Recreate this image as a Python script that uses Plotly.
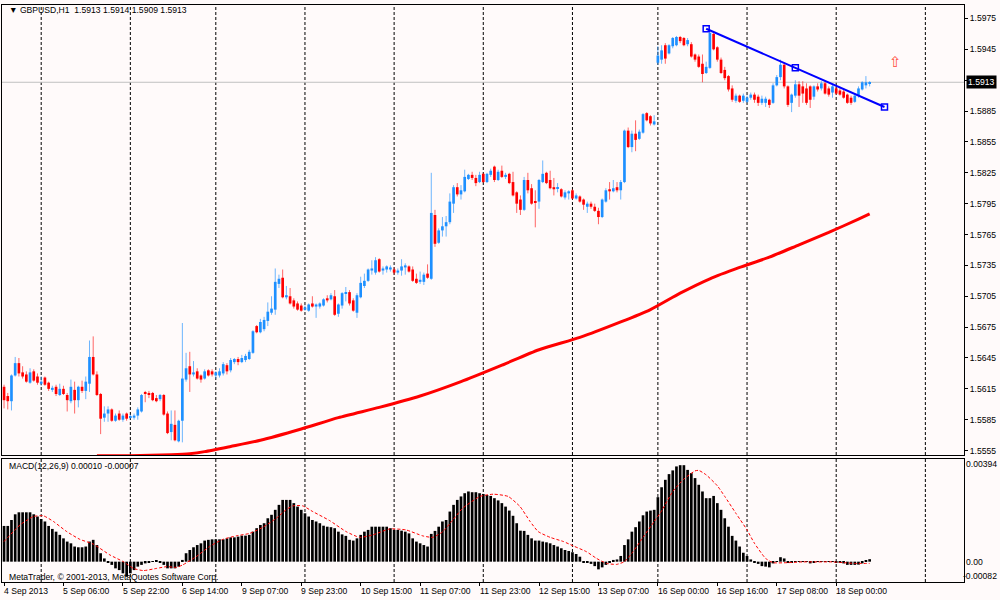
"""GBPUSD H1 chart with MACD(12,26,9) sub-window, MetaTrader style (Plotly, HTML)."""

import plotly.graph_objects as go

# --- data --------------------------------------------------------------------
# one entry per H1 bar, bar 0 = 4 Sep 2013 14:00, last bar = 18 Sep 09:00
OPEN = [
    1.5617, 1.5608, 1.5603, 1.5628, 1.5640, 1.5631, 1.5629, 1.5621, 1.5632, 1.5627,
    1.5620, 1.5626, 1.5621, 1.5614, 1.5617, 1.5609, 1.5615, 1.5609, 1.5603, 1.5614,
    1.5604, 1.5617, 1.5613, 1.5620, 1.5646, 1.5629, 1.5610, 1.5587, 1.5591, 1.5595,
    1.5584, 1.5591, 1.5585, 1.5591, 1.5587, 1.5587, 1.5589, 1.5593, 1.5611, 1.5611,
    1.5611, 1.5606, 1.5605, 1.5609, 1.5591, 1.5573, 1.5580, 1.5564, 1.5584, 1.5624,
    1.5637, 1.5629, 1.5632, 1.5628, 1.5625, 1.5633, 1.5632, 1.5628, 1.5628, 1.5630,
    1.5638, 1.5633, 1.5641, 1.5644, 1.5641, 1.5643, 1.5644, 1.5650, 1.5676, 1.5670,
    1.5673, 1.5681, 1.5689, 1.5692, 1.5717, 1.5723, 1.5704, 1.5705, 1.5701, 1.5698,
    1.5696, 1.5692, 1.5691, 1.5698, 1.5695, 1.5695, 1.5696, 1.5703, 1.5702, 1.5705,
    1.5688, 1.5696, 1.5708, 1.5709, 1.5701, 1.5689, 1.5704, 1.5715, 1.5720, 1.5730,
    1.5728, 1.5741, 1.5730, 1.5731, 1.5731, 1.5731, 1.5728, 1.5730, 1.5733, 1.5734,
    1.5731, 1.5722, 1.5719, 1.5719, 1.5727, 1.5722, 1.5784, 1.5757, 1.5769, 1.5773,
    1.5777, 1.5795, 1.5811, 1.5804, 1.5807, 1.5819, 1.5823, 1.5820, 1.5816, 1.5824,
    1.5816, 1.5823, 1.5831, 1.5818, 1.5827, 1.5821, 1.5824, 1.5816, 1.5806, 1.5799,
    1.5789, 1.5818, 1.5810, 1.5797, 1.5797, 1.5816, 1.5825, 1.5818, 1.5811, 1.5810,
    1.5809, 1.5801, 1.5805, 1.5808, 1.5800, 1.5802, 1.5799, 1.5792, 1.5795, 1.5792,
    1.5788, 1.5782, 1.5797, 1.5809, 1.5807, 1.5811, 1.5808, 1.5816, 1.5866, 1.5850,
    1.5863, 1.5858, 1.5864, 1.5883, 1.5880, 1.5872, 1.5932, 1.5935, 1.5949, 1.5941,
    1.5948, 1.5949, 1.5957, 1.5956, 1.5950, 1.5950, 1.5940, 1.5938, 1.5931, 1.5922,
    1.5927, 1.5960, 1.5947, 1.5935, 1.5925, 1.5919, 1.5907, 1.5895, 1.5900, 1.5895,
    1.5894, 1.5898, 1.5901, 1.5899, 1.5893, 1.5893, 1.5896, 1.5893, 1.5910, 1.5918,
    1.5930, 1.5909, 1.5893, 1.5900, 1.5911, 1.5909, 1.5907, 1.5909, 1.5899, 1.5909,
    1.5907, 1.5912, 1.5907, 1.5903, 1.5907, 1.5905, 1.5904, 1.5901, 1.5898, 1.5894,
    1.5900, 1.5906, 1.5910, 1.5912,
]
HIGH = [
    1.5619, 1.5611, 1.5629, 1.5646, 1.5645, 1.5637, 1.5632, 1.5635, 1.5634, 1.5630,
    1.5627, 1.5627, 1.5622, 1.5618, 1.5619, 1.5620, 1.5618, 1.5611, 1.5624, 1.5622,
    1.5618, 1.5623, 1.5627, 1.5662, 1.5666, 1.5632, 1.5611, 1.5598, 1.5598, 1.5596,
    1.5591, 1.5594, 1.5591, 1.5592, 1.5590, 1.5591, 1.5597, 1.5610, 1.5613, 1.5613,
    1.5612, 1.5609, 1.5610, 1.5610, 1.5593, 1.5594, 1.5594, 1.5585, 1.5679, 1.5650,
    1.5651, 1.5642, 1.5635, 1.5629, 1.5634, 1.5634, 1.5634, 1.5632, 1.5635, 1.5641,
    1.5640, 1.5645, 1.5645, 1.5646, 1.5648, 1.5649, 1.5653, 1.5672, 1.5677, 1.5683,
    1.5685, 1.5699, 1.5705, 1.5732, 1.5726, 1.5731, 1.5715, 1.5713, 1.5703, 1.5700,
    1.5698, 1.5696, 1.5698, 1.5705, 1.5698, 1.5699, 1.5703, 1.5706, 1.5708, 1.5711,
    1.5698, 1.5709, 1.5714, 1.5711, 1.5703, 1.5708, 1.5724, 1.5727, 1.5732, 1.5740,
    1.5743, 1.5742, 1.5734, 1.5735, 1.5735, 1.5733, 1.5732, 1.5741, 1.5737, 1.5735,
    1.5734, 1.5727, 1.5729, 1.5728, 1.5736, 1.5825, 1.5789, 1.5771, 1.5782, 1.5783,
    1.5805, 1.5813, 1.5815, 1.5813, 1.5828, 1.5824, 1.5826, 1.5823, 1.5826, 1.5825,
    1.5825, 1.5829, 1.5832, 1.5828, 1.5832, 1.5825, 1.5825, 1.5826, 1.5807, 1.5803,
    1.5821, 1.5825, 1.5814, 1.5808, 1.5819, 1.5837, 1.5826, 1.5827, 1.5820, 1.5815,
    1.5810, 1.5808, 1.5808, 1.5809, 1.5805, 1.5803, 1.5800, 1.5797, 1.5797, 1.5795,
    1.5791, 1.5800, 1.5810, 1.5816, 1.5818, 1.5816, 1.5818, 1.5867, 1.5869, 1.5866,
    1.5876, 1.5867, 1.5883, 1.5884, 1.5881, 1.5881, 1.5948, 1.5949, 1.5951, 1.5950,
    1.5957, 1.5958, 1.5958, 1.5957, 1.5956, 1.5952, 1.5941, 1.5940, 1.5940, 1.5933,
    1.5962, 1.5961, 1.5948, 1.5937, 1.5928, 1.5920, 1.5910, 1.5902, 1.5901, 1.5902,
    1.5900, 1.5903, 1.5903, 1.5901, 1.5900, 1.5899, 1.5897, 1.5912, 1.5920, 1.5935,
    1.5932, 1.5910, 1.5902, 1.5915, 1.5914, 1.5914, 1.5912, 1.5910, 1.5910, 1.5912,
    1.5914, 1.5914, 1.5909, 1.5911, 1.5909, 1.5907, 1.5906, 1.5902, 1.5900, 1.5901,
    1.5909, 1.5914, 1.5919, 1.5914,
]
LOW = [
    1.5596, 1.5595, 1.5594, 1.5627, 1.5627, 1.5625, 1.5621, 1.5620, 1.5622, 1.5619,
    1.5618, 1.5618, 1.5613, 1.5612, 1.5608, 1.5608, 1.5609, 1.5593, 1.5601, 1.5591,
    1.5597, 1.5611, 1.5605, 1.5612, 1.5628, 1.5608, 1.5571, 1.5583, 1.5583, 1.5583,
    1.5583, 1.5584, 1.5583, 1.5584, 1.5586, 1.5585, 1.5585, 1.5592, 1.5602, 1.5606,
    1.5603, 1.5602, 1.5603, 1.5589, 1.5571, 1.5565, 1.5564, 1.5563, 1.5563, 1.5622,
    1.5612, 1.5627, 1.5624, 1.5621, 1.5624, 1.5627, 1.5627, 1.5625, 1.5626, 1.5628,
    1.5629, 1.5631, 1.5639, 1.5638, 1.5640, 1.5641, 1.5643, 1.5649, 1.5669, 1.5669,
    1.5671, 1.5676, 1.5687, 1.5687, 1.5713, 1.5703, 1.5702, 1.5697, 1.5693, 1.5691,
    1.5690, 1.5691, 1.5690, 1.5694, 1.5684, 1.5693, 1.5695, 1.5699, 1.5701, 1.5686,
    1.5685, 1.5693, 1.5700, 1.5696, 1.5690, 1.5684, 1.5703, 1.5713, 1.5719, 1.5726,
    1.5726, 1.5728, 1.5726, 1.5728, 1.5729, 1.5726, 1.5726, 1.5725, 1.5726, 1.5728,
    1.5719, 1.5717, 1.5717, 1.5716, 1.5722, 1.5721, 1.5753, 1.5756, 1.5763, 1.5763,
    1.5775, 1.5786, 1.5802, 1.5799, 1.5806, 1.5818, 1.5818, 1.5812, 1.5815, 1.5815,
    1.5815, 1.5821, 1.5816, 1.5817, 1.5820, 1.5819, 1.5814, 1.5802, 1.5786, 1.5784,
    1.5788, 1.5805, 1.5794, 1.5772, 1.5790, 1.5815, 1.5814, 1.5809, 1.5803, 1.5806,
    1.5801, 1.5799, 1.5799, 1.5799, 1.5799, 1.5796, 1.5789, 1.5786, 1.5790, 1.5787,
    1.5775, 1.5781, 1.5796, 1.5799, 1.5806, 1.5806, 1.5799, 1.5815, 1.5849, 1.5845,
    1.5846, 1.5857, 1.5863, 1.5875, 1.5871, 1.5871, 1.5930, 1.5931, 1.5931, 1.5940,
    1.5946, 1.5948, 1.5951, 1.5948, 1.5948, 1.5937, 1.5933, 1.5927, 1.5913, 1.5921,
    1.5926, 1.5944, 1.5933, 1.5921, 1.5915, 1.5904, 1.5894, 1.5893, 1.5893, 1.5893,
    1.5893, 1.5896, 1.5893, 1.5890, 1.5891, 1.5889, 1.5888, 1.5892, 1.5909, 1.5915,
    1.5907, 1.5889, 1.5884, 1.5898, 1.5889, 1.5893, 1.5891, 1.5888, 1.5896, 1.5904,
    1.5905, 1.5901, 1.5899, 1.5898, 1.5901, 1.5900, 1.5897, 1.5892, 1.5891, 1.5893,
    1.5898, 1.5905, 1.5907, 1.5909,
]
CLOSE = [
    1.5604, 1.5603, 1.5628, 1.5640, 1.5630, 1.5627, 1.5622, 1.5631, 1.5623, 1.5621,
    1.5622, 1.5619, 1.5615, 1.5616, 1.5610, 1.5615, 1.5610, 1.5604, 1.5617, 1.5604,
    1.5617, 1.5613, 1.5622, 1.5646, 1.5629, 1.5609, 1.5586, 1.5591, 1.5595, 1.5584,
    1.5589, 1.5585, 1.5589, 1.5586, 1.5588, 1.5589, 1.5595, 1.5609, 1.5610, 1.5609,
    1.5604, 1.5603, 1.5609, 1.5590, 1.5572, 1.5581, 1.5565, 1.5584, 1.5625, 1.5635,
    1.5629, 1.5631, 1.5625, 1.5624, 1.5632, 1.5628, 1.5629, 1.5631, 1.5632, 1.5639,
    1.5632, 1.5643, 1.5644, 1.5641, 1.5645, 1.5647, 1.5651, 1.5671, 1.5670, 1.5680,
    1.5682, 1.5690, 1.5693, 1.5719, 1.5722, 1.5704, 1.5706, 1.5698, 1.5695, 1.5692,
    1.5691, 1.5694, 1.5697, 1.5695, 1.5697, 1.5698, 1.5702, 1.5701, 1.5706, 1.5687,
    1.5697, 1.5708, 1.5709, 1.5698, 1.5691, 1.5706, 1.5718, 1.5720, 1.5731, 1.5732,
    1.5740, 1.5729, 1.5732, 1.5734, 1.5733, 1.5728, 1.5730, 1.5734, 1.5735, 1.5729,
    1.5720, 1.5718, 1.5721, 1.5726, 1.5723, 1.5786, 1.5756, 1.5769, 1.5773, 1.5777,
    1.5797, 1.5811, 1.5804, 1.5808, 1.5821, 1.5823, 1.5820, 1.5815, 1.5823, 1.5816,
    1.5824, 1.5827, 1.5818, 1.5826, 1.5821, 1.5823, 1.5815, 1.5803, 1.5795, 1.5789,
    1.5818, 1.5808, 1.5795, 1.5796, 1.5818, 1.5824, 1.5815, 1.5810, 1.5809, 1.5811,
    1.5802, 1.5806, 1.5807, 1.5800, 1.5803, 1.5797, 1.5794, 1.5795, 1.5792, 1.5788,
    1.5782, 1.5799, 1.5808, 1.5807, 1.5810, 1.5808, 1.5816, 1.5866, 1.5850, 1.5863,
    1.5857, 1.5865, 1.5882, 1.5876, 1.5873, 1.5875, 1.5939, 1.5944, 1.5936, 1.5949,
    1.5956, 1.5957, 1.5953, 1.5949, 1.5954, 1.5938, 1.5935, 1.5928, 1.5921, 1.5928,
    1.5961, 1.5945, 1.5935, 1.5922, 1.5917, 1.5906, 1.5896, 1.5900, 1.5894, 1.5900,
    1.5898, 1.5901, 1.5896, 1.5893, 1.5897, 1.5897, 1.5891, 1.5910, 1.5918, 1.5930,
    1.5909, 1.5891, 1.5901, 1.5911, 1.5900, 1.5902, 1.5893, 1.5896, 1.5909, 1.5906,
    1.5912, 1.5902, 1.5901, 1.5909, 1.5902, 1.5901, 1.5898, 1.5893, 1.5893, 1.5900,
    1.5907, 1.5913, 1.5913, 1.5913,
]

# moving average (red thick line), sampled along the visible part
MA_BARS = [25, 34, 45, 50, 54, 61, 69, 80, 90, 101, 112, 123, 134, 144, 155,
           166, 174, 182, 190, 198, 206, 214, 222, 230, 233]
MA_VALUES = [1.5550, 1.5550, 1.5551, 1.5552, 1.5554, 1.5559, 1.5565, 1.5576,
             1.5587, 1.5597, 1.5608, 1.5622, 1.5638, 1.5653, 1.5665, 1.5680,
             1.5692, 1.5708, 1.5722, 1.5733, 1.5743, 1.5755, 1.5767, 1.5780,
             1.5785]

MACD_MAIN = [
    0.00144, 0.00144, 0.00168, 0.00191, 0.00199, 0.00199, 0.00199, 0.00199, 0.00191, 0.00182,
    0.00172, 0.00162, 0.00144, 0.00132, 0.00121, 0.00108, 0.00094, 0.00081, 0.00074, 0.00061,
    0.00058, 0.00058, 0.00061, 0.00081, 0.00088, 0.00067, 0.00034, 0.00013, -0.00002, -0.00013,
    -0.00027, -0.00034, -0.00047, -0.00061, -0.00047, -0.00034, -0.00020, -0.00013, -0.00007, -0.00004,
    0.00001, 0.00003, -0.00004, -0.00013, -0.00027, -0.00027, -0.00027, -0.00020, 0.00007, 0.00034,
    0.00047, 0.00058, 0.00067, 0.00074, 0.00085, 0.00088, 0.00090, 0.00090, 0.00090, 0.00090,
    0.00094, 0.00098, 0.00098, 0.00101, 0.00105, 0.00105, 0.00108, 0.00121, 0.00135, 0.00148,
    0.00155, 0.00175, 0.00189, 0.00209, 0.00229, 0.00249, 0.00249, 0.00249, 0.00236, 0.00222,
    0.00209, 0.00195, 0.00182, 0.00168, 0.00162, 0.00155, 0.00145, 0.00141, 0.00139, 0.00135,
    0.00121, 0.00110, 0.00104, 0.00088, 0.00085, 0.00094, 0.00108, 0.00121, 0.00128, 0.00141,
    0.00141, 0.00141, 0.00141, 0.00141, 0.00135, 0.00128, 0.00128, 0.00125, 0.00121, 0.00114,
    0.00094, 0.00081, 0.00074, 0.00067, 0.00061, 0.00112, 0.00124, 0.00141, 0.00162, 0.00168,
    0.00202, 0.00229, 0.00249, 0.00263, 0.00276, 0.00283, 0.00280, 0.00280, 0.00276, 0.00273,
    0.00269, 0.00265, 0.00256, 0.00247, 0.00236, 0.00222, 0.00206, 0.00185, 0.00155, 0.00125,
    0.00124, 0.00108, 0.00094, 0.00085, 0.00085, 0.00081, 0.00078, 0.00074, 0.00067, 0.00061,
    0.00054, 0.00047, 0.00043, 0.00038, 0.00031, 0.00020, -0.00002, -0.00004, -0.00009, -0.00018,
    -0.00031, -0.00023, -0.00013, -0.00004, 0.00007, 0.00009, 0.00023, 0.00067, 0.00090, 0.00121,
    0.00139, 0.00162, 0.00187, 0.00202, 0.00206, 0.00209, 0.00260, 0.00300, 0.00330, 0.00353,
    0.00368, 0.00384, 0.00389, 0.00389, 0.00370, 0.00357, 0.00337, 0.00310, 0.00283, 0.00256,
    0.00256, 0.00265, 0.00236, 0.00209, 0.00175, 0.00141, 0.00104, 0.00085, 0.00061, 0.00036,
    0.00023, 0.00009, -0.00004, -0.00009, -0.00018, -0.00020, -0.00023, -0.00007, 0.00001, 0.00018,
    0.00013, -0.00004, -0.00004, -0.00001, 0.00001, 0.00001, -0.00001, -0.00007, -0.00004, -0.00001,
    -0.00001, 0.00001, -0.00001, -0.00001, -0.00003, -0.00004, -0.00007, -0.00013, -0.00013, -0.00013,
    -0.00012, -0.00007, 0.00004, 0.00010,
]

# signal line, sampled points along the dotted red curve
SIGNAL_BARS = [0, 4.3, 7.9, 10.6, 13.3, 16.9, 20.4, 24.0, 28.5, 32.1, 34.8, 37.5,
               41.1, 43.8, 46.4, 48.1, 51.7, 55.3, 58.9, 62.5, 66.1, 69.7, 73.3,
               75.9, 77.7, 80.4, 83.1, 87.6, 92.1, 95.7, 99.3, 103.8, 108.2,
               112.7, 115.4, 118.1, 120.8, 123.5, 128.1, 131.7, 135.7, 138.9,
               141.6, 143.8, 147.0, 150.6, 153.3, 156.8, 159.5, 162.2, 164.9,
               167.0, 169.0, 172.0, 175.0, 176.9, 180.0, 183.0, 186.0, 187.0,
               189.0, 192.0, 194.0, 197.0, 200.0, 202.0, 205.0, 207.0, 211.0,
               215.0, 219.0, 223.0, 225.9, 229.0, 233.0]
SIGNAL_VALUES = [0.00081, 0.00148, 0.00182, 0.00185, 0.00162, 0.00121, 0.00090,
                 0.00071, 0.00027, 0.00000, -0.00027, -0.00036, -0.00027,
                 -0.00020, -0.00023, -0.00013, 0.00020, 0.00061, 0.00090,
                 0.00104, 0.00114, 0.00139, 0.00175, 0.00209, 0.00225, 0.00225,
                 0.00202, 0.00166, 0.00121, 0.00098, 0.00108, 0.00132, 0.00128,
                 0.00104, 0.00098, 0.00121, 0.00168, 0.00216, 0.00263, 0.00272,
                 0.00263, 0.00222, 0.00162, 0.00121, 0.00098, 0.00081, 0.00063,
                 0.00040, 0.00013, -0.00007, -0.00011, 0.00000, 0.00034, 0.00098,
                 0.00162, 0.00202, 0.00283, 0.00333, 0.00366, 0.00368, 0.00350,
                 0.00306, 0.00263, 0.00195, 0.00128, 0.00074, 0.00013, -0.00004,
                 -0.00004, -0.00001, -0.00001, -0.00001, -0.00004, -0.00007,
                 -0.00007]

# trend line drawn on the chart (anchor points and mid handle)
TREND_BARS = [189, 213, 237]
TREND_PRICES = [1.5965, 1.5927, 1.5889]

# time axis: label every 16 bars, grid at each midnight
TIME_TICK_BARS = [0, 16, 32, 48, 64, 80, 96, 112, 128, 144, 160, 176, 192, 208, 224]
TIME_LABELS = ["4 Sep 2013", "5 Sep 06:00", "5 Sep 22:00", "6 Sep 14:00",
               "9 Sep 07:00", "9 Sep 23:00", "10 Sep 15:00", "11 Sep 07:00",
               "11 Sep 23:00", "12 Sep 15:00", "13 Sep 07:00", "16 Sep 00:00",
               "16 Sep 16:00", "17 Sep 08:00", "18 Sep 00:00"]
MIDNIGHT_BARS = [10, 34, 57, 81, 105, 129, 153, 176, 200, 224, 248]

PRICE_TICKS = [1.5555, 1.5585, 1.5615, 1.5645, 1.5675, 1.5705, 1.5735, 1.5765,
               1.5795, 1.5825, 1.5855, 1.5885, 1.5915, 1.5945, 1.5975]
BID = 1.5913
ARROW_BAR, ARROW_PRICE = 240, 1.5933

BULL = "#1E90FF"
BEAR = "#FF0000"
BG = "#FFFAFA"
FONT = "Liberation Sans, Arial, sans-serif"
FS = 8.6

# --- build traces --------------------------------------------------------------
bars = list(range(len(CLOSE)))
up = [i for i in bars if CLOSE[i] >= OPEN[i]]
dn = [i for i in bars if CLOSE[i] < OPEN[i]]


def wick_xy(idx):
    xs, ys = [], []
    for i in idx:
        xs += [i, i, None]
        ys += [LOW[i], HIGH[i], None]
    return xs, ys


fig = go.Figure()

for idx, col, wcol in ((up, BULL, "rgba(30,144,255,0.65)"),
                       (dn, BEAR, "rgba(255,0,0,0.6)")):
    wx, wy = wick_xy(idx)
    fig.add_trace(go.Scatter(x=wx, y=wy, mode="lines",
                             line=dict(color=wcol, width=1),
                             hoverinfo="skip", showlegend=False))
    fig.add_trace(go.Bar(
        x=idx,
        base=[min(OPEN[i], CLOSE[i]) for i in idx],
        y=[max(abs(CLOSE[i] - OPEN[i]), 0.00008) for i in idx],
        width=0.72, marker=dict(color=col, line=dict(width=0)),
        hoverinfo="skip", showlegend=False))

fig.add_trace(go.Scatter(x=MA_BARS, y=MA_VALUES, mode="lines",
                         line=dict(color="#FF0000", width=3, shape="spline",
                                   smoothing=0.6),
                         hoverinfo="skip", showlegend=False))

fig.add_trace(go.Scatter(x=[TREND_BARS[0], TREND_BARS[-1]],
                         y=[TREND_PRICES[0], TREND_PRICES[-1]], mode="lines",
                         line=dict(color="#0000FF", width=2),
                         hoverinfo="skip", showlegend=False))
fig.add_trace(go.Scatter(x=TREND_BARS, y=TREND_PRICES, mode="markers",
                         marker=dict(symbol="square-open", size=6, color="#0000FF",
                                     line=dict(width=1.5, color="#0000FF")),
                         hoverinfo="skip", showlegend=False))

# MACD sub-window
fig.add_trace(go.Bar(x=bars, y=MACD_MAIN, width=0.72, xaxis="x2", yaxis="y2",
                     marker=dict(color="#000000", line=dict(width=0)),
                     hoverinfo="skip", showlegend=False))
fig.add_trace(go.Scatter(x=SIGNAL_BARS, y=SIGNAL_VALUES, mode="lines",
                         xaxis="x2", yaxis="y2",
                         line=dict(color="#FF0000", width=1, dash="3px,2px",
                                   shape="spline", smoothing=0.5),
                         hoverinfo="skip", showlegend=False))

# --- layout ------------------------------------------------------------------
X_RANGE = [-0.55, 258.4]
MAIN_DOMAIN = [0.2201, 1.0]
MACD_DOMAIN = [0.0, 0.2132]

shapes = []
for b in MIDNIGHT_BARS:
    for xr, yr in (("x", "y domain"), ("x2", "y2 domain")):
        shapes.append(dict(type="line", xref=xr, yref=yr, x0=b, x1=b, y0=0, y1=1,
                           line=dict(color="#000000", width=1, dash="3px,2px"),
                           layer="below"))
shapes.append(dict(type="line", xref="x domain", yref="y", x0=0, x1=1, y0=BID, y1=BID,
                   line=dict(color="#C0C0C0", width=1), layer="below"))

annotations = [
    dict(text="▼ GBPUSD,H1\u00a0\u00a01.5913 1.5914 1.5909 1.5913", xref="paper", yref="paper",
         x=0.005, y=0.9913, xanchor="left", yanchor="middle", showarrow=False,
         font=dict(size=FS, color="#000000")),
    dict(text="MACD(12,26,9) 0.00010 -0.00007", xref="paper", yref="paper",
         x=0.005, y=0.2010, xanchor="left", yanchor="middle", showarrow=False,
         font=dict(size=FS, color="#000000")),
    dict(text="MetaTrader, © 2001-2013, MetaQuotes Software Corp.", xref="paper",
         yref="paper", x=0.005, y=0.0087, xanchor="left", yanchor="middle",
         showarrow=False, font=dict(size=FS, color="#000000")),
    dict(text="1.5913", xref="paper", yref="y", x=1, y=BID, xanchor="left",
         yanchor="middle", xshift=2, showarrow=False, bgcolor="#000000",
         borderpad=1, font=dict(size=FS, color="#FFFFFF")),
    dict(text="⇧", xref="x", yref="y", x=ARROW_BAR, y=ARROW_PRICE, showarrow=False,
         font=dict(family="DejaVu Sans", size=15, color="#FF4A3A")),
]
for txt, val, anchor, shift in (("0.00394", 0.00394, "middle", 1),
                                ("0.00", 0.0, "middle", 1),
                                ("-0.00082", -0.00082, "bottom", -2)):
    annotations.append(dict(text=txt, xref="paper", yref="y2", x=1, y=val,
                            xanchor="left", yanchor=anchor, xshift=shift,
                            showarrow=False, borderpad=0,
                            font=dict(size=FS, color="#000000")))
for b, lab in zip(TIME_TICK_BARS, TIME_LABELS):
    annotations.append(dict(text=lab, xref="x2", yref="paper", x=b, y=-0.0156,
                            xanchor="left", yanchor="middle", xshift=-2,
                            showarrow=False, font=dict(size=FS, color="#000000")))

axis_common = dict(showline=True, linecolor="#000000", linewidth=1, mirror=True,
                   showgrid=False, zeroline=False, fixedrange=True)

fig.update_layout(
    width=1000, height=600,
    margin=dict(l=2, r=36, t=5, b=18),
    paper_bgcolor=BG, plot_bgcolor=BG,
    font=dict(family=FONT, size=FS, color="#000000"),
    barmode="overlay", hovermode=False, showlegend=False,
    xaxis=dict(domain=[0, 1], anchor="y", range=X_RANGE, showticklabels=False,
               ticks="", **axis_common),
    yaxis=dict(domain=MAIN_DOMAIN, anchor="x", side="right",
               range=[1.55507, 1.59881], tickvals=PRICE_TICKS, tickformat=".4f",
               ticks="outside", ticklen=3, tickcolor="#000000", **axis_common),
    xaxis2=dict(domain=[0, 1], anchor="y2", matches="x", range=X_RANGE,
                tickvals=TIME_TICK_BARS, showticklabels=False, ticks="outside",
                ticklen=3, tickcolor="#000000", **axis_common),
    yaxis2=dict(domain=MACD_DOMAIN, anchor="x2", side="right",
                range=[-0.00082, 0.00414], showticklabels=False, ticks="",
                **axis_common),
    shapes=shapes,
    annotations=annotations,
)

# the page's default body margin would push the 1000x600 figure off the window
fig.write_html("out.html", config={"displayModeBar": False},
               post_script="document.body.style.margin='0';")
